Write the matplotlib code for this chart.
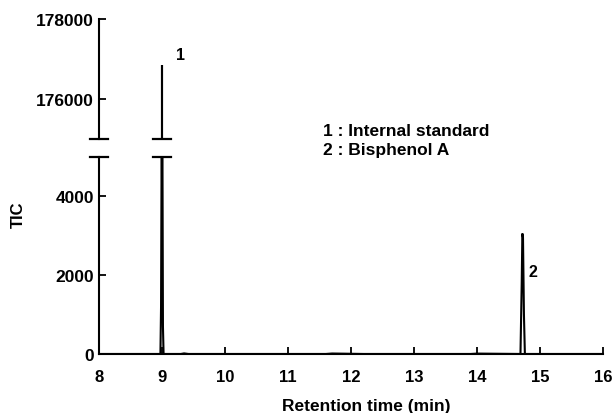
import matplotlib
matplotlib.use("Agg")
import matplotlib.pyplot as plt

# Data
time_min = [8.0, 8.6, 8.975, 8.985, 8.992, 9.0, 9.008, 9.015, 9.025, 9.3, 9.35, 9.42,
            9.9, 10.0, 11.0, 11.6, 11.7, 12.2, 13.9, 14.0, 14.69, 14.70, 14.71,
            14.72, 14.73, 14.745, 14.76, 15.0, 16.0]
tic = [0, 0, 0, 1200, 4300, 176850, 4600, 700, 0, 0, 15, 0,
       0, 0, 0, 0, 12, 0, 0, 10, 0, 900, 1800,
       3050, 2950, 1000, 0, 0, 0]

peak_labels = ["1", "2"]
legend_lines = ["1 : Internal standard", "2 : Bisphenol A"]
x_ticks = [8, 9, 10, 11, 12, 13, 14, 15, 16]
low_yticks = [0, 2000, 4000]
high_yticks = [176000, 178000]

plt.rcParams['font.family'] = ['Liberation Sans', 'DejaVu Sans']
plt.rcParams['font.weight'] = 'bold'

fig = plt.figure(figsize=(6.14, 4.14), dpi=100)
W, H = 614, 414
left, right = 99, 603
ax_hi = fig.add_axes([left / W, (H - 140) / H, (right - left) / W, 120 / H])
ax_lo = fig.add_axes([left / W, (H - 355) / H, (right - left) / W, (355 - 157.5) / H])

lw_sp = 1.5
for ax in (ax_hi, ax_lo):
    ax.plot(time_min, tic, color='black', lw=1.5, solid_joinstyle='miter')
    ax.set_xlim(8, 16)
    for s in ('top', 'right'):
        ax.spines[s].set_visible(False)
    ax.spines['left'].set_linewidth(lw_sp)
    ax.spines['bottom'].set_linewidth(lw_sp)
    ax.tick_params(direction='in', length=5, width=1.3)

ax_hi.set_ylim(175000, 178000)
ax_hi.set_yticks(high_yticks)
ax_hi.set_yticklabels([str(v) for v in high_yticks], fontweight='bold', fontsize=12.5)
ax_hi.spines['bottom'].set_visible(False)
ax_hi.set_xticks([])

ax_lo.set_ylim(0, 5000)
ax_lo.set_yticks(low_yticks)
ax_lo.set_yticklabels([str(v) for v in low_yticks], fontweight='bold', fontsize=12.5)
ax_lo.set_xticks(x_ticks)
ax_lo.set_xticklabels([str(v) for v in x_ticks], fontweight='bold', fontsize=12)
ax_lo.tick_params(axis='x', pad=11)

# break marks
for cx in (8.0, 9.0):
    ax_hi.plot([cx - 0.135, cx + 0.135], [175000, 175000], color='black', lw=1.6, clip_on=False)
    ax_lo.plot([cx - 0.135, cx + 0.135], [5000, 5000], color='black', lw=1.6, clip_on=False)

fig.text(366 / W, 1 - 407 / H, "Retention time (min)", fontsize=12.5, fontweight='bold',
         ha='center', va='center')
fig.text(18 / W, 1 - 215 / H, "TIC", rotation=90, fontsize=12, fontweight='bold',
         ha='center', va='center')

# peak labels
ax_hi.text(9.30, 177120, peak_labels[0], fontsize=11.5, fontweight='bold', ha='center', va='center')
ax_lo.text(14.88, 2080, peak_labels[1], fontsize=11.5, fontweight='bold', ha='center', va='center')

# legend text
fig.text(323 / W, 1 - 131 / H, legend_lines[0], fontsize=12.5, fontweight='bold', va='center')
fig.text(323 / W, 1 - 150 / H, legend_lines[1], fontsize=12.5, fontweight='bold', va='center')

fig.savefig("out.png", dpi=100)
